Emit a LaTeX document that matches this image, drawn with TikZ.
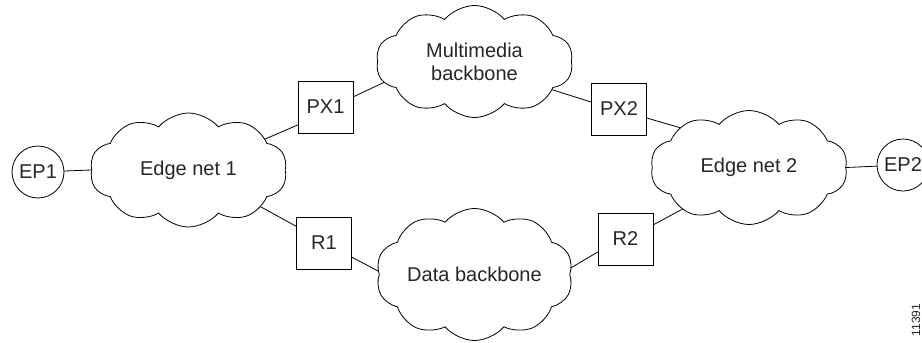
\documentclass[tikz,border=0pt]{standalone}
\usepackage{fontspec}
\setmainfont{Liberation Sans}
\usetikzlibrary{shapes.symbols}
\begin{document}
\begin{tikzpicture}[x=1pt,y=-1pt,
  lbl/.style={font=\fontsize{20}{23}\selectfont, text=black!85},
  netcloud/.style={cloud, draw, line width=0.8pt, cloud puffs=10, cloud puff arc=100,
    aspect=1.73, minimum width=197pt, minimum height=114pt, inner sep=0pt, outer sep=0pt,
    lbl, align=center},
  gwbox/.style={rectangle, draw, line width=0.8pt, minimum width=55pt, minimum height=52pt,
    inner sep=0pt, outer sep=0pt, lbl},
  endpt/.style={circle, draw, line width=0.8pt, minimum size=52pt, inner sep=0pt, outer sep=0pt, lbl},
  link/.style={draw, line width=0.8pt}]
\useasboundingbox (0,0) rectangle (922,343);
\clip (0,0) rectangle (922,343);

\node[endpt] (ep1) at (38,172) {EP1};
\node[endpt] (ep2) at (903,165) {EP2};

\node[netcloud] (en1) at (188.5,170) {Edge net 1};
\node[netcloud] (en2) at (749,167.5) {Edge net 2};
\node[netcloud, minimum height=112pt] (mm) at (474.5,61.5) {Multimedia\\backbone};
\node[netcloud, minimum height=112pt] (db) at (474.5,274.5) {Data backbone};

\node[gwbox] (px1) at (325.5,107) {PX1};
\node[gwbox] (r1) at (324,243) {R1};
\node[gwbox] (px2) at (619,109) {PX2};
\node[gwbox] (r2) at (625.5,239) {R2};

\path[link] (ep1) -- (en1.180);
\path[link] (en1.22) -- (px1.213);
\path[link] (px1.20) -- (mm.193);
\path[link] (mm.340) -- (px2.166);
\path[link] (px2.342) -- (en2.150);
\path[link] (en2.0) -- (ep2);
\path[link] (en1.333) -- (r1.149);
\path[link] (r1.333) -- (db.178);
\path[link] (db.4) -- (r2.205);
\path[link] (r2.27) -- (en2.212);

\node[font=\fontsize{12}{14}\selectfont, text=black!85, rotate=90, inner sep=0pt] (code) at (916,320) {11391};
\end{tikzpicture}
\end{document}
